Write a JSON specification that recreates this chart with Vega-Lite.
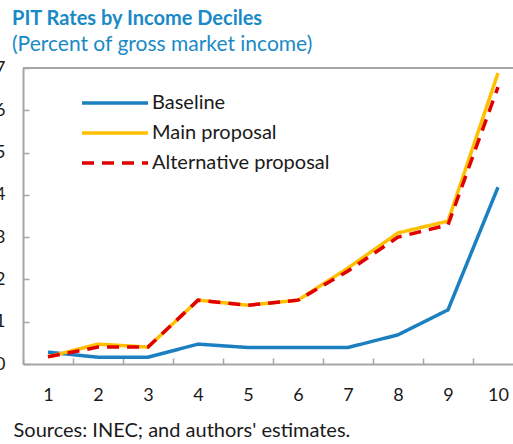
{
  "$schema": "https://vega.github.io/schema/vega-lite/v6.json",
  "width": 490,
  "height": 296,
  "autosize": "none",
  "padding": {"left": 23, "top": 68, "right": 0, "bottom": 80},
  "background": "white",
  "config": {
    "font": "Lato",
    "view": {"stroke": null}
  },
  "title": {
    "text": "PIT Rates by Income Deciles",
    "subtitle": "(Percent of gross market income)",
    "anchor": "start",
    "frame": "group",
    "dx": -11,
    "offset": 4,
    "font": "Lato",
    "fontSize": 20,
    "fontWeight": "bold",
    "color": "#1a8ac6",
    "subtitleFont": "Lato",
    "subtitleFontSize": 21,
    "subtitleColor": "#1a8ac6",
    "subtitlePadding": 5
  },
  "data": {
    "values": [
      {"decile": 1, "series": "Baseline", "rate": 0.28},
      {"decile": 2, "series": "Baseline", "rate": 0.16},
      {"decile": 3, "series": "Baseline", "rate": 0.16},
      {"decile": 4, "series": "Baseline", "rate": 0.47},
      {"decile": 5, "series": "Baseline", "rate": 0.39},
      {"decile": 6, "series": "Baseline", "rate": 0.39},
      {"decile": 7, "series": "Baseline", "rate": 0.39},
      {"decile": 8, "series": "Baseline", "rate": 0.69},
      {"decile": 9, "series": "Baseline", "rate": 1.28},
      {"decile": 10, "series": "Baseline", "rate": 4.18},
      {"decile": 1, "series": "Main proposal", "rate": 0.17},
      {"decile": 2, "series": "Main proposal", "rate": 0.47},
      {"decile": 3, "series": "Main proposal", "rate": 0.4},
      {"decile": 4, "series": "Main proposal", "rate": 1.51},
      {"decile": 5, "series": "Main proposal", "rate": 1.39},
      {"decile": 6, "series": "Main proposal", "rate": 1.51},
      {"decile": 7, "series": "Main proposal", "rate": 2.27},
      {"decile": 8, "series": "Main proposal", "rate": 3.1},
      {"decile": 9, "series": "Main proposal", "rate": 3.38},
      {"decile": 10, "series": "Main proposal", "rate": 6.88},
      {"decile": 1, "series": "Alternative proposal", "rate": 0.17},
      {"decile": 2, "series": "Alternative proposal", "rate": 0.4},
      {"decile": 3, "series": "Alternative proposal", "rate": 0.4},
      {"decile": 4, "series": "Alternative proposal", "rate": 1.51},
      {"decile": 5, "series": "Alternative proposal", "rate": 1.39},
      {"decile": 6, "series": "Alternative proposal", "rate": 1.51},
      {"decile": 7, "series": "Alternative proposal", "rate": 2.2},
      {"decile": 8, "series": "Alternative proposal", "rate": 3.0},
      {"decile": 9, "series": "Alternative proposal", "rate": 3.29},
      {"decile": 10, "series": "Alternative proposal", "rate": 6.55}
    ]
  },
  "layer": [
    {
      "mark": {"type": "rule", "color": "#a6a6a6", "strokeWidth": 2},
      "encoding": {"y": {"datum": 7, "type": "quantitative"}}
    },
    {
      "mark": {"type": "line", "strokeWidth": 3.5},
      "encoding": {
        "x": {
          "field": "decile",
          "type": "ordinal",
          "scale": {"type": "band", "paddingInner": 0, "paddingOuter": 0, "range": [0, 500]},
          "axis": {
            "title": "Sources: INEC; and authors' estimates.",
            "titleFont": "Lato",
            "titleFontSize": 20,
            "titleFontWeight": "normal",
            "titleColor": "#1a1a1a",
            "titleAnchor": "start",
            "titleAlign": "left",
            "titleBaseline": "middle",
            "titleX": -10,
            "titleY": 66,
            "labelAngle": 0,
            "labelFont": "Lato",
            "labelFontSize": 18,
            "labelColor": "#1a1a1a",
            "labelPadding": 28,
            "tickBand": "extent",
            "tickSize": -6,
            "tickColor": "#a6a6a6",
            "tickWidth": 1.5,
            "domainColor": "#a6a6a6",
            "domainWidth": 2
          }
        },
        "y": {
          "field": "rate",
          "type": "quantitative",
          "scale": {"domain": [0, 7], "nice": false},
          "axis": {
            "title": null,
            "values": [0,1,2,3,4,5,6,7],
            "grid": false,
            "labelFont": "Lato",
            "labelFontSize": 18,
            "labelColor": "#1a1a1a",
            "labelPadding": 24,
            "tickSize": -6,
            "tickColor": "#a6a6a6",
            "tickWidth": 1.5,
            "domainColor": "#a6a6a6",
            "domainWidth": 2
          }
        },
        "color": {
          "field": "series",
          "type": "nominal",
          "sort": ["Baseline", "Main proposal", "Alternative proposal"],
          "scale": {
            "domain": ["Baseline", "Main proposal", "Alternative proposal"],
            "range": ["#1c7fc0", "#ffc000", "#e00000"]
          },
          "legend": {
            "title": null,
            "orient": "none",
            "legendX": 80,
            "legendY": 23,
            "symbolType": "M-3.3,0H3.3",
            "symbolSize": 400,
            "symbolStrokeWidth": 3.5,
            "labelFont": "Lato",
            "labelFontSize": 20,
            "labelColor": "#1a1a1a",
            "labelOffset": 25,
            "labelLimit": 300,
            "rowPadding": 8
          }
        },
        "strokeDash": {
          "field": "series",
          "type": "nominal",
          "sort": ["Baseline", "Main proposal", "Alternative proposal"],
          "scale": {
            "domain": ["Baseline", "Main proposal", "Alternative proposal"],
            "range": [[1, 0], [1, 0], [12, 8]]
          },
          "legend": null
        }
      }
    }
  ]
}
